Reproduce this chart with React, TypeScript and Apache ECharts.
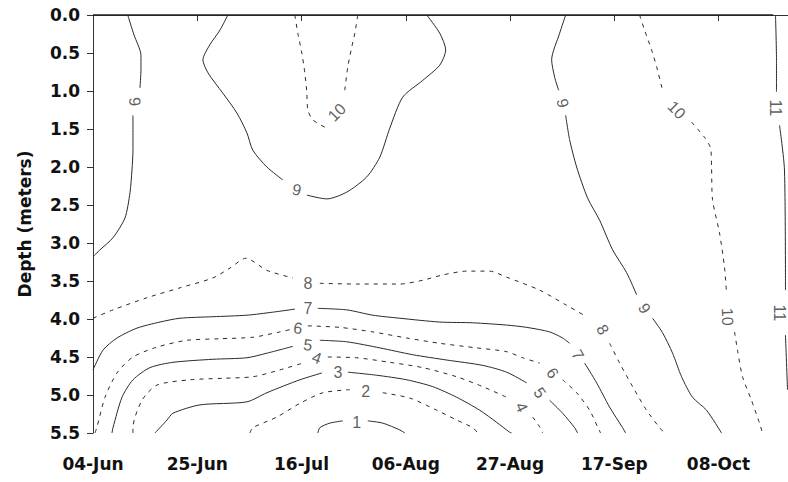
import React, { useEffect, useRef } from "react";
import * as echarts from "echarts";

// x = days since 04-Jun, y = depth (m)
const xTickLabels = ["04-Jun", "25-Jun", "16-Jul", "06-Aug", "27-Aug", "17-Sep", "08-Oct"];
const tickStepDays = 21;
const xMaxDays = 140;
const depthMax = 5.5;
const depthStep = 0.5;

// contour polylines; null marks a gap left for the inline label
const c9a = [[7.0, 0], [8.25, 0.26], [9.66, 0.53], [9.66, 0.72], [9.46, 0.96], null, [8.05, 1.32], [8.05, 1.78], [7.85, 2.04], [7.45, 2.34], [6.44, 2.67], [4.03, 2.93], [1.41, 3.09], [0, 3.18]];
const c9b = [[27.17, 0], [25.56, 0.2], [23.55, 0.39], [22.14, 0.59], [23.15, 0.76], [26.17, 1.03], [28.99, 1.29], [31.0, 1.55], [32.2, 1.78], [35.02, 2.0], [38.24, 2.17], null, [43.08, 2.37], [47.1, 2.42], [51.13, 2.33], [55.15, 2.13], [57.77, 1.87], [59.78, 1.49], [62.4, 1.08], [66.43, 0.86], [69.85, 0.66], [71.05, 0.46], [69.85, 0.24], [67.23, 0]];
const c10a = [[40.66, 0], [41.26, 0.24], [42.07, 0.5], [42.67, 0.76], [43.08, 1.03], [43.28, 1.25], [44.28, 1.38], [47.1, 1.49], null, [50.72, 0.99], [51.33, 0.68], [52.13, 0.42], [52.74, 0.24], [53.34, 0]];
const c9c = [[95.21, 0], [94.0, 0.24], [92.39, 0.59], [93.0, 0.82], [93.8, 0.99], null, [95.21, 1.32], [96.01, 1.64], [97.42, 2.0], [99.64, 2.41], [102.05, 2.7], [104.67, 3.09], [107.49, 3.39], [109.5, 3.68], null, [112.72, 3.99], [114.73, 4.18], [116.75, 4.45], [118.56, 4.76], [120.77, 5.03], [123.59, 5.2], [126.61, 5.5]];
const c10b = [[110.1, 0], [111.11, 0.2], [112.52, 0.46], [113.53, 0.68], [114.73, 0.99], null, [120.57, 1.41], [123.19, 1.61], [124.4, 1.75], [124.6, 2.0], [124.8, 2.43], [126.21, 2.87], [127.21, 3.32], [127.62, 3.66], null, [129.23, 4.17], [129.83, 4.41], [130.84, 4.76], [132.65, 5.07], [134.26, 5.37], [134.86, 5.5]];
const c11 = [[137.48, 0], [137.68, 0.59], [137.68, 1.01], null, [138.29, 1.45], [139.29, 2.04], [139.49, 3.62], null, [139.49, 4.21], [139.9, 4.93]];
const c8 = [[0, 3.99], [4.03, 3.88], [10.87, 3.72], [17.51, 3.59], [24.15, 3.46], [27.58, 3.33], [30.8, 3.2], [35.02, 3.36], [40.26, 3.46], null, [45.69, 3.53], [53.14, 3.54], [61.8, 3.54], [66.43, 3.49], [70.45, 3.42], [75.28, 3.37], [79.91, 3.37], [83.33, 3.45], [89.98, 3.62], [95.41, 3.82], [99.44, 3.97], null, [104.07, 4.32], [106.08, 4.58], [108.7, 4.89], [111.51, 5.2], [114.13, 5.43], [115.14, 5.5]];
const c7 = [[0, 4.67], [2.01, 4.41], [4.83, 4.25], [8.86, 4.12], [13.49, 4.04], [17.51, 3.99], [24.15, 3.97], [31.0, 3.95], [36.23, 3.91], [40.66, 3.87], null, [45.29, 3.86], [51.13, 3.88], [56.36, 3.95], [61.8, 3.99], [69.85, 4.04], [76.49, 4.05], [83.33, 4.08], [87.36, 4.11], [91.99, 4.17], [94.6, 4.25], [96.01, 4.32], null, [99.03, 4.58], [101.45, 4.84], [104.07, 5.16], [106.68, 5.43], [107.29, 5.5]];
const c6 = [[0.4, 5.5], [0.81, 5.42], [2.42, 5.03], [4.83, 4.71], [8.05, 4.5], [12.88, 4.37], [18.92, 4.28], [25.56, 4.26], [32.21, 4.24], [37.64, 4.17], [39.65, 4.14], null, [43.28, 4.09], [49.72, 4.11], [56.36, 4.17], [63.2, 4.25], [69.85, 4.32], [77.29, 4.38], [83.33, 4.43], [86.55, 4.51], [89.98, 4.58], null, [94.6, 4.8], [97.42, 4.97], [100.04, 5.2], [101.65, 5.42], [102.25, 5.5]];
const c5 = [[3.82, 5.5], [4.03, 5.43], [5.84, 5.03], [8.05, 4.8], [11.47, 4.64], [16.1, 4.57], [24.15, 4.53], [31.0, 4.51], [35.02, 4.45], [40.26, 4.36], null, [45.69, 4.28], [51.13, 4.3], [57.77, 4.38], [64.41, 4.47], [71.26, 4.54], [78.5, 4.61], [83.33, 4.7], [87.36, 4.84], null, [91.99, 5.07], [94.6, 5.24], [97.02, 5.43], [97.62, 5.5]];
const c4 = [[8.05, 5.5], [8.05, 5.43], [9.86, 5.07], [12.88, 4.87], [19.53, 4.8], [26.17, 4.78], [32.21, 4.76], [37.64, 4.67], [42.27, 4.58], null, [47.3, 4.5], [53.14, 4.51], [59.78, 4.57], [66.43, 4.64], [73.27, 4.76], [78.5, 4.89], [83.33, 5.03], null, [88.57, 5.29], [89.98, 5.42], [90.58, 5.5]];
const c3 = [[12.48, 5.5], [14.9, 5.33], [16.1, 5.24], [21.54, 5.13], [31.0, 5.09], [35.02, 4.97], [41.67, 4.8], [46.1, 4.71], null, [51.33, 4.7], [57.17, 4.74], [63.2, 4.8], [68.44, 4.89], [73.27, 5.03], [77.9, 5.2], [81.32, 5.36], [83.94, 5.49], [84.34, 5.5]];
const c2 = [[31.6, 5.5], [32.21, 5.43], [37.04, 5.29], [41.67, 5.11], [46.3, 4.97], [51.73, 4.93], null, [58.37, 4.97], [63.81, 5.04], [69.24, 5.2], [73.27, 5.33], [76.49, 5.43], [77.5, 5.5]];
const c1 = [[45.29, 5.5], [45.69, 5.43], [47.71, 5.37], [50.32, 5.34], null, [55.35, 5.34], [58.37, 5.37], [61.8, 5.46], [62.8, 5.5]];

// inline label anchors: [day, depth, level]
const labelPoints = [
  [8.45, 1.14, 9], [41.06, 2.3, 9], [49.11, 1.28, 10], [94.6, 1.16, 9], [111.11, 3.86, 9],
  [117.55, 1.25, 10], [127.82, 3.97, 10], [137.48, 1.22, 11], [138.3, 3.92, 11],
  [43.28, 3.53, 8], [102.66, 4.14, 8], [43.28, 3.86, 7], [97.62, 4.47, 7],
  [41.26, 4.12, 6], [92.59, 4.71, 6], [43.28, 4.34, 5], [89.98, 4.97, 5],
  [45.09, 4.51, 4], [86.35, 5.16, 4], [49.32, 4.71, 3], [54.95, 4.96, 2], [53.14, 5.36, 1],
];
const labelRotations = [-85, -12, 45, -80, -60, -45, -88, -90, -90, 0, -60, 0, -60, -8, -55, -8, -55, -20, -65, 0, 0, 0];

const topBoundary = [[0, 0], [137, 0]];

const contours = [
  { level: 9, pts: c9a }, { level: 9, pts: c9b }, { level: 10, pts: c10a },
  { level: 9, pts: c9c }, { level: 10, pts: c10b }, { level: 11, pts: c11 },
  { level: 8, pts: c8 }, { level: 7, pts: c7 }, { level: 6, pts: c6 },
  { level: 5, pts: c5 }, { level: 4, pts: c4 }, { level: 3, pts: c3 },
  { level: 2, pts: c2 }, { level: 1, pts: c1 },
];

function splitSegments(pts: (number[] | null)[]) {
  const segs: number[][][] = [];
  let cur: number[][] = [];
  for (const p of pts) {
    if (p === null) {
      if (cur.length) segs.push(cur);
      cur = [];
    } else cur.push(p);
  }
  if (cur.length) segs.push(cur);
  return segs;
}

export default function App() {
  const ref = useRef<HTMLDivElement>(null);
  useEffect(() => {
    if (!ref.current) return;
    const chart = echarts.init(ref.current, null, { renderer: "svg" });
    const lineColor = "#2a2a2a";
    const series: any[] = [];
    contours.forEach((c) => {
      const dashed = c.level % 2 === 0;
      splitSegments(c.pts).forEach((seg) => {
        series.push({
          type: "line",
          data: seg,
          showSymbol: false,
          symbol: "none",
          smooth: 0.25,
          silent: true,
          lineStyle: { color: lineColor, width: 1, type: dashed ? [4, 5] : "solid" },
        });
      });
    });
    series.push({
      type: "line",
      data: topBoundary,
      showSymbol: false,
      symbol: "none",
      clip: false,
      lineStyle: { color: "#222", width: 1.5 },
    });
    series.push({
      type: "scatter",
      symbolSize: 0,
      silent: true,
      clip: false,
      data: labelPoints.map((p, i) => ({
        value: [p[0], p[1]],
        label: { formatter: String(p[2]), rotate: labelRotations[i] },
      })),
      label: {
        show: true,
        position: "inside",
        fontFamily: "Liberation Sans",
        fontSize: 16,
        color: "#333",
      },
    });
    const tickFont = { fontFamily: "DejaVu Sans", fontWeight: "bold" as const, fontSize: 17, color: "#111" };
    chart.setOption({
      animation: false,
      backgroundColor: "#fff",
      grid: { left: 93, right: 0, top: 15, bottom: 49 },
      xAxis: {
        type: "value",
        min: 0,
        max: xMaxDays,
        interval: tickStepDays,
        axisLine: { show: true, lineStyle: { color: "#333", width: 1 } },
        axisTick: { show: true, length: 6, lineStyle: { color: "#333" } },
        splitLine: { show: false },
        axisLabel: {
          ...tickFont,
          margin: 22,
          showMaxLabel: false,
          formatter: (v: number) => {
            const i = Math.round(v / tickStepDays);
            return Math.abs(v - i * tickStepDays) < 1e-6 && xTickLabels[i] ? xTickLabels[i] : "";
          },
        },
      },
      yAxis: {
        type: "value",
        inverse: true,
        min: 0,
        max: depthMax,
        interval: depthStep,
        name: "Depth (meters)",
        nameLocation: "middle",
        nameGap: 60,
        nameTextStyle: { ...tickFont },
        axisLine: { show: true, lineStyle: { color: "#333", width: 1 } },
        axisTick: { show: true, length: 6, lineStyle: { color: "#333" } },
        splitLine: { show: false },
        axisLabel: { ...tickFont, margin: 13, formatter: (v: number) => v.toFixed(1) },
      },
      series,
    });
    return () => chart.dispose();
  }, []);
  return (
    <div
      ref={ref}
      style={{ position: "absolute", left: 0, top: 0, width: 788, height: 482, background: "#fff" }}
    />
  );
}
